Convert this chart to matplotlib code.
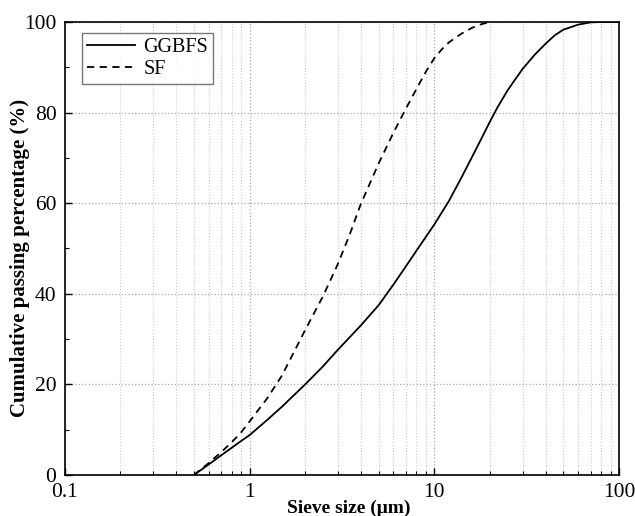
import matplotlib
matplotlib.use("Agg")
import matplotlib.pyplot as plt
from matplotlib.ticker import LogLocator, FixedLocator, NullFormatter

# particle size distributions
GGBFS_SIZE = [0.5, 0.6, 0.7, 0.8, 0.9, 1, 1.25, 1.5, 2, 2.5, 3, 4, 5, 6, 7, 8,
              10, 12, 14, 16, 18, 20, 22, 25, 30, 35, 40, 45, 50, 60, 70, 80, 100]
GGBFS_PASS = [0, 2.3, 4.3, 6.0, 7.5, 8.8, 12.2, 15.1, 20, 24, 27.6, 33, 37.5, 42,
              46, 49.5, 55.3, 60.5, 65.6, 70.2, 74.3, 78, 81.2, 85, 89.6, 92.8,
              95.2, 97.1, 98.3, 99.4, 99.9, 100, 100]
SF_SIZE = [0.5, 0.6, 0.7, 0.8, 0.9, 1, 1.25, 1.5, 2, 2.5, 3, 3.5, 4, 5, 6, 7, 8,
           9, 10, 11, 12, 14, 16, 18, 20]
SF_PASS = [0, 2.6, 5, 7.2, 9.4, 11.8, 17, 22, 32, 39.5, 46.5, 53.3, 59.8, 68.8,
           75.5, 80.8, 85.2, 89, 92, 94, 95.5, 97.4, 98.7, 99.5, 100]

plt.rcParams['font.family'] = ['Liberation Serif', 'DejaVu Serif']

fig = plt.figure(figsize=(6.35, 5.16), dpi=100)
ax = fig.add_axes([0.102, 0.0795, 0.873, 0.878])

ax.plot(GGBFS_SIZE, GGBFS_PASS, color='black', lw=1.3, label='GGBFS')
ax.plot(SF_SIZE, SF_PASS, color='black', lw=1.3, linestyle=(0, (4, 3)), label='SF')

ax.set_xscale('log')
ax.set_xlim(0.1, 100)
ax.set_ylim(0, 100)
ax.set_yticks([0, 20, 40, 60, 80, 100])
ax.yaxis.set_minor_locator(FixedLocator([10, 30, 50, 70, 90]))
ax.set_xticks([0.1, 1, 10, 100])
ax.set_xticklabels(['0.1', '1', '10', '100'])
ax.xaxis.set_minor_locator(LogLocator(base=10, subs=range(2, 10)))
ax.xaxis.set_minor_formatter(NullFormatter())

ax.tick_params(which='both', direction='in', top=False, right=False,
               labelsize=15.5)
ax.tick_params(which='major', length=5, width=1)
ax.tick_params(which='minor', length=3, width=0.8)
ax.tick_params(axis='x', which='major', pad=6)
ax.tick_params(axis='y', which='major', pad=6)

ax.grid(which='major', axis='both', color='#aaaaaa', linestyle=':', lw=0.9)
ax.grid(which='minor', axis='x', color='#cccccc', linestyle=':', lw=0.8)

for s in ax.spines.values():
    s.set_linewidth(1.2)

ax.set_xlabel('Sieve size (μm)', fontsize=14, fontweight='bold')
ax.xaxis.set_label_coords(0.512, -0.055)
ax.set_ylabel('Cumulative passing percentage (%)', fontsize=15,
              fontweight='bold')
ax.yaxis.set_label_coords(-0.062, 0.479)

leg = ax.legend(loc='upper left', bbox_to_anchor=(0.02, 0.99), fontsize=14.5,
                fancybox=False, edgecolor='#555555', handlelength=2.4,
                borderpad=0.25, labelspacing=0.15, handletextpad=0.4,
                borderaxespad=0.3)
leg.get_frame().set_linewidth(1.0)

fig.savefig('out.png', dpi=100)
